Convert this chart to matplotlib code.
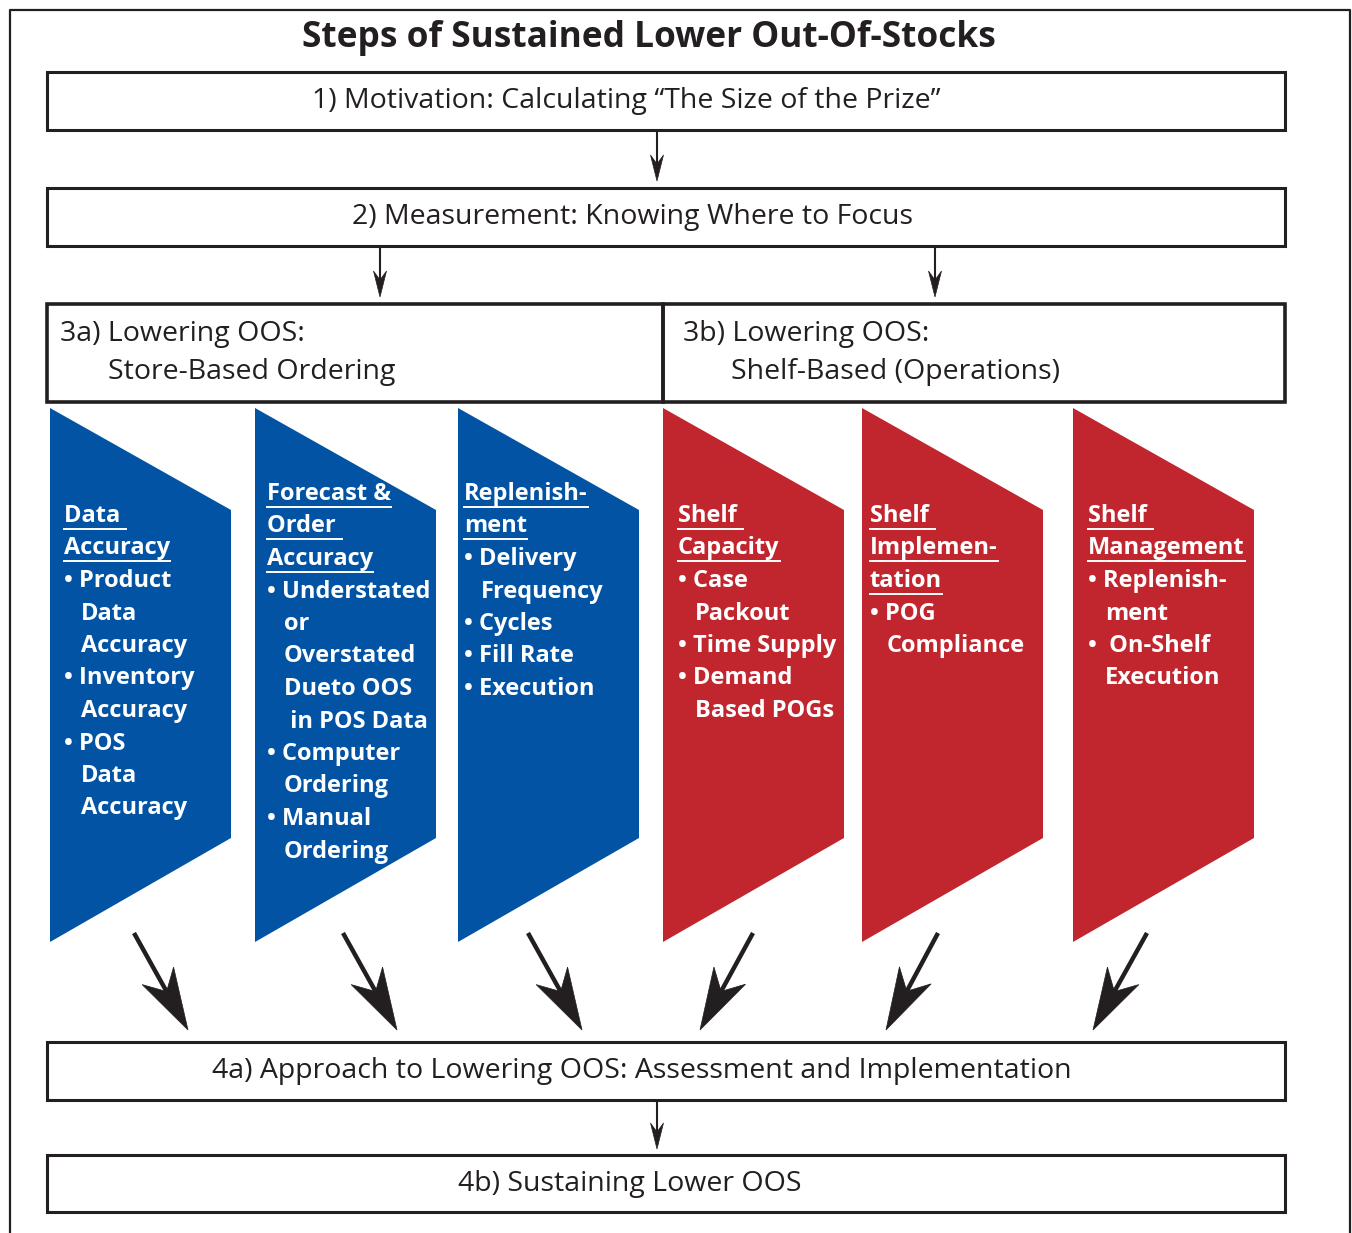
import numpy as np
import matplotlib
matplotlib.use("Agg")
import matplotlib.pyplot as plt
from matplotlib.patches import Polygon, Rectangle

plt.rcParams['font.family'] = ['Open Sans', 'DejaVu Sans']

# 文字内容
title = "Steps of Sustained Lower Out-Of-Stocks"
step_texts = ["1) Motivation: Calculating \u201cThe Size of the Prize\u201d",
              "2) Measurement: Knowing Where to Focus",
              "4a) Approach to Lowering OOS: Assessment and Implementation",
              "4b) Sustaining Lower OOS"]
split_titles = [("3a) Lowering OOS:", "Store-Based Ordering"),
                ("3b) Lowering OOS:", "Shelf-Based (Operations)")]

# 每个色块: (类型, 文字)  h=带下划线标题, b=项目符号, c=续行
block_lines = [
    [("h", "Data "), ("h", "Accuracy"), ("b", "Product"), ("c", "Data"), ("c", "Accuracy"),
     ("b", "Inventory"), ("c", "Accuracy"), ("b", "POS"), ("c", "Data"), ("c", "Accuracy")],
    [("h", "Forecast &"), ("h", "Order "), ("h", "Accuracy"), ("b", "Understated"), ("c", "or"),
     ("c", "Overstated"), ("c", "Dueto OOS"), ("c", " in POS Data"), ("b", "Computer"),
     ("c", "Ordering"), ("b", "Manual"), ("c", "Ordering")],
    [("h", "Replenish-"), ("h", "ment"), ("b", "Delivery"), ("c", "Frequency"), ("b", "Cycles"),
     ("b", "Fill Rate"), ("b", "Execution")],
    [("h", "Shelf "), ("h", "Capacity"), ("b", "Case"), ("c", "Packout"), ("b", "Time Supply"),
     ("b", "Demand"), ("c", "Based POGs")],
    [("h", "Shelf "), ("h", "Implemen-"), ("h", "tation"), ("b", "POG"), ("c", "Compliance")],
    [("h", "Shelf "), ("h", "Management"), ("b", "Replenish-"), ("c", "ment"),
     ("b", " On-Shelf"), ("c", "Execution")],
]
block_colors = ["#0353A4", "#0353A4", "#0353A4", "#C1262F", "#C1262F", "#C1262F"]

# 版面位置 (像素)
block_left = [50, 255, 458, 663, 862, 1073]
block_text_x = [64, 267, 464, 678, 870, 1088]
block_text_top = [516, 494, 494, 516, 516, 516]
step_center = [626, 632, 642, 630]
fan_start = [(134, 933), (343, 933), (528, 933), (753, 933), (938, 933), (1147, 933)]
fan_end = [(188, 1030), (397, 1030), (582, 1030), (700, 1030), (886, 1030), (1093, 1030)]

W, H = 1352, 1233
fig = plt.figure(figsize=(W / 100, H / 100), dpi=100)
ax = fig.add_axes([0, 0, 1, 1])
ax.set_xlim(0, W)
ax.set_ylim(H, 0)
ax.axis('off')

ink = "#231F20"


def arrow(x0, y0, x1, y1, lw, hl, hw, notch):
    # 线段 + 燕尾箭头
    d = np.array([x1 - x0, y1 - y0], float)
    L = np.hypot(*d)
    u = d / L
    n = np.array([-u[1], u[0]])
    tip = np.array([x1, y1], float)
    back = tip - u * hl
    ax.plot([x0, (back + u * notch)[0]], [y0, (back + u * notch)[1]], color=ink, lw=lw,
            solid_capstyle='butt')
    pts = [tip, back + n * hw / 2, back + u * notch, back - n * hw / 2]
    ax.add_patch(Polygon(pts, closed=True, fc=ink, ec=ink, lw=0.5))


# 外框 (下边超出画面)
ax.plot([10, 10, 1350, 1350], [H + 5, 10, 10, H + 5], color=ink, lw=1.6)

ax.text(649, 38, title, ha='center', va='center', fontsize=25.4, fontweight='bold', color=ink)

boxes = [(72, 130), (188, 246), (1042, 1100), (1155, 1212)]
for (y0, y1), txt, cx in zip(boxes, step_texts, step_center):
    ax.add_patch(Rectangle((47, y0), 1238, y1 - y0, fill=False, ec=ink, lw=2.2))
    ax.text(cx, (y0 + y1) / 2 + 0, txt, ha='center', va='center', fontsize=20.5, color=ink)

# 3a / 3b
for x0, x1, (l1, l2) in zip([47, 663], [663, 1285], split_titles):
    ax.add_patch(Rectangle((x0, 304), x1 - x0, 98, fill=False, ec=ink, lw=2.6))
    ax.text(x0 + 13 + (7 if x0 > 100 else 0), 334, l1, ha='left', va='center', fontsize=20.5, color=ink)
    ax.text(x0 + 61 + (7 if x0 > 100 else 0), 372, l2, ha='left', va='center', fontsize=20.5, color=ink)

# 小箭头
arrow(657, 130, 657, 181, 1.5, 26, 13, 9)
arrow(380, 246, 380, 297, 1.5, 26, 13, 9)
arrow(935, 246, 935, 297, 1.5, 26, 13, 9)
arrow(657, 1100, 657, 1149, 1.5, 26, 13, 9)

# 色块
fig.canvas.draw()
renderer = fig.canvas.get_renderer()
inv = ax.transData.inverted()
lh = 32.5
for left, x0, top, col, lines in zip(block_left, block_text_x, block_text_top, block_colors, block_lines):
    pts = [(left, 408), (left + 181, 510), (left + 181, 838), (left, 942)]
    ax.add_patch(Polygon(pts, closed=True, fc=col, ec='none'))
    for i, (kind, txt) in enumerate(lines):
        y = top + i * lh
        if kind == 'h':
            t = ax.text(x0, y, txt, ha='left', va='center', fontsize=17, fontweight='bold',
                        color='white')
            bb = t.get_window_extent(renderer)
            (bx0, _), (bx1, _) = inv.transform([(bb.x0, 0), (bb.x1, 0)])
            ax.plot([bx0, bx1], [y + 12.5, y + 12.5], color='white', lw=1.4)
        elif kind == 'b':
            ax.text(x0, y, "\u2022 " + txt, ha='left', va='center', fontsize=17,
                    fontweight='bold', color='white')
        else:
            ax.text(x0 + 17, y, txt, ha='left', va='center', fontsize=17,
                    fontweight='bold', color='white')

# 汇聚箭头
for (sx, sy), (ex, ey) in zip(fan_start, fan_end):
    arrow(sx, sy, ex, ey, 3.2, 62, 36, 18)

fig.savefig("out.png", dpi=100)
